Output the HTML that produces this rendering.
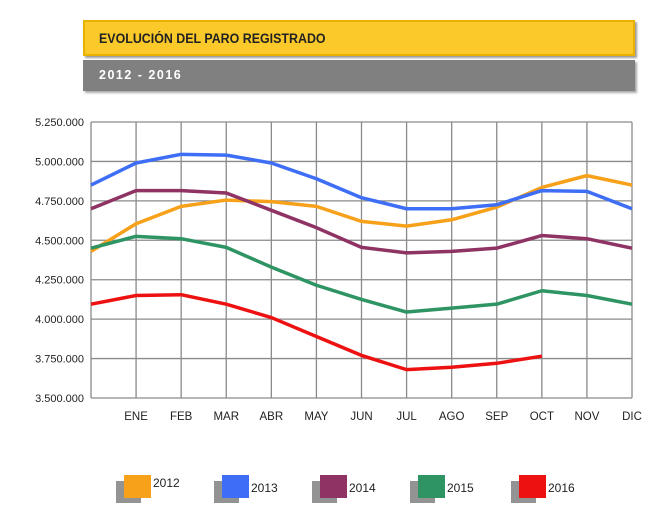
<!DOCTYPE html>
<html><head><meta charset="utf-8"><style>
body{margin:0;background:#fff;width:665px;height:529px;overflow:hidden;font-family:"Liberation Sans",sans-serif}
</style></head><body>
<div style="position:absolute;left:83px;top:20px;width:548px;height:32px;background:#fcc92a;border:2px solid #e8b100;box-shadow:2px 2px 2px #999"></div>
<div style="position:absolute;left:99px;top:31px;font-size:13.5px;font-weight:bold;color:#222;transform:scaleX(0.92);transform-origin:left">EVOLUCIÓN DEL PARO REGISTRADO</div>
<div style="position:absolute;left:83px;top:60px;width:552px;height:31px;background:#808080;box-shadow:2px 2px 2px #aaa"></div>
<div style="position:absolute;left:99px;top:68px;font-size:12.5px;font-weight:bold;color:#fff;letter-spacing:1.5px">2012 - 2016</div>
<svg id="chart" width="665" height="529" style="position:absolute;left:0;top:0"></svg>
<script>
const months=["ENE","FEB","MAR","ABR","MAY","JUN","JUL","AGO","SEP","OCT","NOV","DIC"];
const yTicks=[3500000,3750000,4000000,4250000,4500000,4750000,5000000,5250000];
const yTickLabels=["3.500.000","3.750.000","4.000.000","4.250.000","4.500.000","4.750.000","5.000.000","5.250.000"];
const seriesNames=["2012","2013","2014","2015","2016"];
const seriesColors=["#f7a11a","#3e6ef5","#8e3363","#2e9464","#ee1111"];
const s2012=[4430000,4605000,4715000,4755000,4745000,4715000,4620000,4590000,4630000,4710000,4835000,4910000,4850000];
const s2013=[4850000,4990000,5045000,5040000,4990000,4890000,4770000,4700000,4700000,4725000,4815000,4810000,4700000];
const s2014=[4700000,4815000,4815000,4800000,4690000,4580000,4455000,4420000,4430000,4450000,4530000,4510000,4450000];
const s2015=[4450000,4525000,4510000,4455000,4330000,4215000,4125000,4045000,4070000,4095000,4180000,4150000,4095000];
const s2016=[4095000,4150000,4155000,4095000,4010000,3890000,3770000,3680000,3695000,3720000,3765000];
const allSeries=[s2012,s2013,s2014,s2015,s2016];
const NS="http://www.w3.org/2000/svg",svg=document.getElementById("chart");
const L=91,R=632,T=122,B=398,ymin=3500000,ymax=5250000;
const x=i=>L+i*(R-L)/12, y=v=>B-(v-ymin)/(ymax-ymin)*(B-T);
function mk(t,a){const e=document.createElementNS(NS,t);for(const k in a)e.setAttribute(k,a[k]);svg.appendChild(e);return e;}
yTicks.forEach((v,i)=>{
 const g=mk("line",{x1:L,x2:R,y1:y(v),y2:y(v),stroke:"#8a8a8a","stroke-width":1.3});
 
 
 const t=mk("text",{x:84,y:y(v)+4,"text-anchor":"end","font-size":11,fill:"#222"});t.textContent=yTickLabels[i];
 
 
});
const lg=mk("line",{x1:L,x2:L,y1:T,y2:B,stroke:"#8a8a8a","stroke-width":1.3});


months.forEach((m,i)=>{
 const g=mk("line",{x1:x(i+1),x2:x(i+1),y1:T,y2:B,stroke:"#8a8a8a","stroke-width":1.3});
 
 
 const t=mk("text",{x:x(i+1),y:420,"text-anchor":"middle","font-size":11.5,fill:"#222"});t.textContent=m;
 
 
});
allSeries.forEach((s,k)=>{
 const p=mk("polyline",{points:s.map((v,i)=>x(i)+","+y(v)).join(" "),fill:"none",stroke:seriesColors[k],"stroke-width":3.5,"stroke-linejoin":"round"});
 
 
});
const legX=[116,214,312,410,511];
seriesNames.forEach((n,k)=>{
 const bx=legX[k];
 const sh=mk("rect",{x:bx,y:481,width:25,height:22,fill:"#939393"});
 
 
 const sw=mk("rect",{x:bx+8,y:475,width:27,height:23,fill:seriesColors[k]});
 
 
 const t=mk("text",{x:bx+37,y:k==0?487:492,"font-size":12,fill:"#222"});t.textContent=n;
 
 
});
</script>
</body></html>
